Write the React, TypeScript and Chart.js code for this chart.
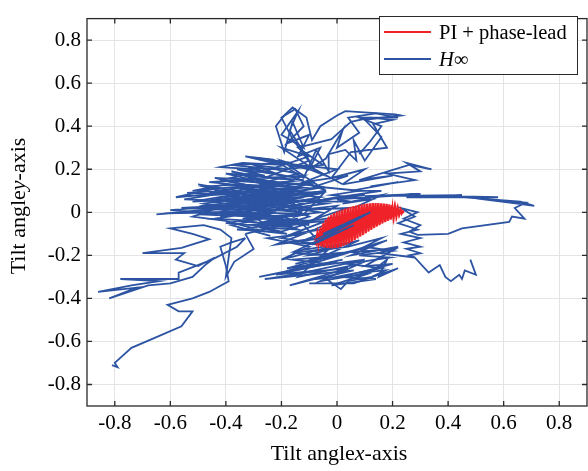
import { useEffect, useRef } from "react";
import { Chart, registerables } from "chart.js";

Chart.register(...registerables);

type P = [number, number];

const xTicks = [-0.8, -0.6, -0.4, -0.2, 0, 0.2, 0.4, 0.6, 0.8];
const yTicks = [-0.8, -0.6, -0.4, -0.2, 0, 0.2, 0.4, 0.6, 0.8];
const seriesNames = ["PI + phase-lead", "H∞"];

const hinfTail: P[] = [
  [-0.81, -0.71], [-0.79, -0.72], [-0.8, -0.7], [-0.74, -0.63], [-0.65, -0.58], [-0.56, -0.53],
  [-0.52, -0.46], [-0.57, -0.46], [-0.61, -0.43], [-0.52, -0.4], [-0.46, -0.37], [-0.39, -0.32],
  [-0.4, -0.25], [-0.42, -0.16], [-0.38, -0.14], [-0.33, -0.12],
];

const hinfFan: P[] = [
  [-0.33, -0.12], [-0.36, -0.16], [-0.45, -0.22], [-0.57, -0.28], [-0.57, -0.31], [-0.78, -0.31],
  [-0.64, -0.32], [-0.74, -0.34], [-0.86, -0.37], [-0.72, -0.35], [-0.82, -0.4], [-0.68, -0.34],
  [-0.6, -0.33], [-0.52, -0.3], [-0.47, -0.24], [-0.44, -0.21], [-0.5, -0.25], [-0.58, -0.22],
  [-0.55, -0.19], [-0.7, -0.19], [-0.56, -0.165], [-0.46, -0.125], [-0.52, -0.1], [-0.6, -0.075],
  [-0.48, -0.06], [-0.42, -0.08], [-0.38, -0.12], [-0.4, -0.3], [-0.37, -0.23], [-0.3, -0.17],
  [-0.33, -0.1],
];

const hinfMain: P[] = [
  [-0.33, -0.1], [-0.2, -0.06], [-0.35, -0.04], [-0.18, -0.02], [-0.4, 0.0], [-0.62, -0.005],
  [-0.45, 0.01], [-0.65, -0.01], [-0.4, 0.02], [-0.55, 0.0], [-0.3, 0.03], [-0.5, 0.02],
  [-0.25, 0.05], [-0.42, 0.04], [-0.2, 0.06], [-0.38, 0.07], [-0.15, 0.06], [-0.3, 0.09],
  [-0.1, 0.08], [-0.28, 0.1], [-0.45, 0.08], [-0.35, 0.12], [-0.52, 0.1], [-0.4, 0.13],
  [-0.25, 0.11], [-0.42, 0.15], [-0.3, 0.14], [-0.18, 0.12], [-0.35, 0.18], [-0.25, 0.16],
  [-0.12, 0.15], [-0.28, 0.13], [-0.08, 0.11], [-0.22, 0.08], [-0.05, 0.09], [-0.2, 0.05],
  [-0.02, 0.06], [-0.16, 0.03], [-0.3, 0.05], [-0.12, 0.02], [-0.28, 0.0], [-0.1, -0.01],
  [-0.26, -0.03], [-0.08, -0.04], [-0.24, -0.06], [-0.36, -0.08], [-0.22, -0.09], [-0.3, -0.02],
  [-0.48, 0.03], [-0.34, 0.05], [-0.55, 0.06], [-0.4, 0.09], [-0.58, 0.07], [-0.44, 0.11],
  [-0.5, 0.13], [-0.36, 0.1], [-0.22, 0.13], [-0.38, 0.16], [-0.28, 0.19], [-0.2, 0.17],
  [-0.32, 0.21], [-0.22, 0.2], [-0.14, 0.18], [-0.26, 0.14], [-0.1, 0.13], [-0.24, 0.1],
  [-0.06, 0.07], [-0.18, 0.04], [-0.32, 0.07], [-0.14, 0.05], [-0.36, 0.02], [-0.2, 0.01],
  [-0.42, -0.02], [-0.26, 0.02], [-0.46, 0.05], [-0.3, 0.08], [-0.16, 0.09], [-0.34, 0.11],
  [-0.2, 0.14], [-0.06, 0.12], [-0.24, 0.07], [-0.12, 0.04], [-0.32, -0.01], [-0.18, -0.05],
  [-0.34, -0.06], [-0.26, -0.09], [-0.4, -0.04], [-0.52, -0.02], [-0.38, 0.04], [-0.28, 0.06],
  [-0.44, 0.06], [-0.32, 0.1], [-0.18, 0.08], [-0.04, 0.1],
];

const hinfCore: P[] = [
  [-0.04, 0.1], [-0.2, 0.07], [-0.12, 0.09], [-0.3, 0.06], [-0.18, 0.08], [-0.36, 0.04],
  [-0.22, 0.06], [-0.4, 0.05], [-0.26, 0.03], [-0.44, 0.02], [-0.3, 0.01], [-0.38, -0.01],
  [-0.22, 0.0], [-0.34, -0.03], [-0.16, -0.01], [-0.28, -0.05], [-0.14, -0.03], [-0.24, -0.07],
  [-0.1, -0.05], [-0.2, -0.09], [-0.3, -0.06], [-0.18, -0.04], [-0.32, 0.02], [-0.2, 0.04],
  [-0.38, 0.08], [-0.26, 0.09], [-0.44, 0.1], [-0.3, 0.12], [-0.46, 0.14], [-0.34, 0.15],
  [-0.24, 0.13], [-0.38, 0.19], [-0.3, 0.17], [-0.16, 0.15], [-0.26, 0.11], [-0.12, 0.1],
  [-0.24, 0.04], [-0.1, 0.06], [-0.28, 0.02], [-0.14, 0.0], [-0.34, 0.06], [-0.22, 0.08],
  [-0.42, 0.07], [-0.28, 0.05], [-0.36, 0.09], [-0.16, 0.05], [-0.13, 0.0], [-0.15, -0.02],
  [-0.12, -0.01], [-0.04, 0.1],
];

const hinfCore2: P[] = [
  [-0.16, 0.05], [-0.34, 0.03], [-0.24, 0.01], [-0.46, 0.0], [-0.3, -0.02], [-0.5, -0.01],
  [-0.36, 0.01], [-0.56, 0.02], [-0.42, 0.03], [-0.6, 0.01], [-0.44, -0.005], [-0.32, 0.0],
  [-0.48, 0.04], [-0.36, 0.06], [-0.52, 0.05], [-0.38, 0.08], [-0.54, 0.09], [-0.42, 0.1],
  [-0.48, 0.12], [-0.34, 0.13], [-0.44, 0.16], [-0.3, 0.15], [-0.4, 0.18], [-0.26, 0.17],
  [-0.36, 0.2], [-0.22, 0.18], [-0.3, 0.22], [-0.18, 0.2], [-0.26, 0.16], [-0.12, 0.17],
  [-0.22, 0.12], [-0.08, 0.14], [-0.2, 0.1], [-0.06, 0.09], [-0.18, 0.06], [-0.04, 0.04],
  [-0.16, 0.02], [-0.06, 0.0], [-0.2, -0.02], [-0.1, -0.06], [-0.22, -0.04], [-0.14, -0.08],
  [-0.28, -0.07], [-0.18, -0.1], [-0.32, -0.08], [-0.24, -0.11], [-0.38, -0.06], [-0.3, -0.04],
  [-0.44, -0.03], [-0.34, -0.01], [-0.26, 0.04], [-0.4, 0.06], [-0.28, 0.08], [-0.46, 0.09],
  [-0.34, 0.09], [-0.24, 0.11], [-0.36, 0.13], [-0.2, 0.12], [-0.32, 0.16], [-0.16, 0.13],
  [-0.28, 0.11], [-0.14, 0.11], [-0.26, 0.07], [-0.12, 0.07], [-0.3, 0.04], [-0.18, 0.03],
  [-0.36, 0.0], [-0.24, -0.02], [-0.4, -0.05], [-0.26, -0.06], [-0.16, -0.07], [-0.2, -0.03],
  [-0.1, 0.02], [-0.24, 0.06],
];

const hinfUpper: P[] = [
  [-0.04, 0.1], [-0.2, 0.24], [-0.1, 0.2], [-0.28, 0.25], [-0.16, 0.23], [-0.38, 0.22],
  [-0.24, 0.2], [-0.1, 0.26], [-0.2, 0.3], [-0.06, 0.18], [-0.14, 0.22], [0.0, 0.2],
  [-0.12, 0.14], [0.04, 0.17], [-0.08, 0.12], [0.08, 0.1], [-0.02, 0.08], [0.12, 0.06],
  [0.02, 0.04], [0.16, 0.08], [0.06, 0.02],
];

const hinfMid: P[] = [
  [-0.24, 0.06], [-0.1, -0.02], [-0.2, -0.06], [-0.04, -0.04], [-0.16, -0.1], [0.0, -0.07],
  [-0.12, -0.13], [-0.02, -0.11], [-0.18, -0.14], [-0.06, -0.15], [-0.2, -0.12], [-0.08, -0.08],
  [0.02, -0.02], [-0.1, -0.04], [0.04, 0.02], [-0.14, 0.01], [0.0, 0.03], [-0.12, -0.06],
  [-0.04, -0.17], [-0.16, -0.19], [-0.02, -0.2], [-0.1, -0.22], [0.02, -0.19],
];

const hinfTower: P[] = [
  [-0.04, 0.1], [-0.15, 0.16], [-0.3, 0.2], [-0.42, 0.21], [-0.34, 0.23], [-0.2, 0.22],
  [-0.33, 0.26], [-0.23, 0.245], [-0.12, 0.16], [-0.075, 0.29], [-0.03, 0.19], [-0.03, 0.27],
  [0.03, 0.29], [0.07, 0.24], [0.06, 0.335], [0.1, 0.24], [0.16, 0.35], [0.1, 0.43],
  [0.23, 0.45], [0.21, 0.455], [0.03, 0.47], [0.0, 0.45], [-0.06, 0.4], [-0.09, 0.335],
  [-0.11, 0.44], [-0.16, 0.487], [-0.19, 0.45], [-0.22, 0.4], [-0.19, 0.28], [-0.16, 0.42],
  [-0.12, 0.3], [-0.2, 0.36], [-0.14, 0.47], [-0.17, 0.38], [-0.1, 0.24], [-0.18, 0.2],
  [-0.05, 0.22], [-0.14, 0.3], [-0.02, 0.34], [0.05, 0.42], [0.12, 0.44], [0.2, 0.43],
  [0.13, 0.41], [0.18, 0.3], [0.05, 0.28], [-0.02, 0.16], [0.1, 0.2], [0.02, 0.13],
];

const hinfTower2: P[] = [
  [0.02, 0.13], [-0.08, 0.2], [-0.16, 0.34], [-0.2, 0.44], [-0.15, 0.48], [-0.12, 0.4],
  [-0.18, 0.32], [-0.1, 0.36], [-0.14, 0.26], [-0.06, 0.3], [-0.1, 0.2], [-0.04, 0.25],
  [0.02, 0.38], [0.0, 0.3], [0.08, 0.37], [0.04, 0.44], [0.14, 0.46], [0.22, 0.44],
  [0.08, 0.44], [0.16, 0.4], [0.12, 0.33], [0.08, 0.27],
];

const hinfBand: P[] = [
  [0.02, 0.13], [0.2, 0.17], [0.08, 0.15], [0.26, 0.22], [0.34, 0.2], [0.25, 0.23],
  [0.3, 0.19], [0.18, 0.18], [0.28, 0.15], [0.12, 0.12], [0.22, 0.14], [0.05, 0.1],
  [0.16, 0.1], [-0.05, 0.06], [0.1, 0.08], [-0.1, 0.05], [0.05, 0.05], [0.0, 0.06],
];

const hinfLoop: P[] = [
  [0.0, 0.06], [0.3, 0.085], [0.1, 0.075], [0.45, 0.08], [0.25, 0.07], [0.58, 0.07],
  [0.4, 0.075], [0.66, 0.05], [0.71, 0.03], [0.65, 0.04], [0.5, 0.065], [0.68, 0.045],
  [0.64, 0.02], [0.675, -0.03], [0.63, -0.02], [0.62, -0.045], [0.45, -0.075], [0.4, -0.1],
  [0.29, -0.105], [0.26, -0.09], [0.3, -0.06], [0.24, -0.03], [0.29, 0.0], [0.23, 0.02],
  [0.28, -0.02], [0.22, -0.05], [0.29, -0.08], [0.23, -0.1], [0.3, -0.12], [0.24, -0.14],
  [0.3, -0.16], [0.25, -0.17], [0.3, -0.19], [0.26, -0.2], [0.28, -0.21], [0.33, -0.28],
  [0.37, -0.245], [0.39, -0.3], [0.41, -0.32], [0.44, -0.29], [0.45, -0.31], [0.46, -0.27],
  [0.5, -0.29], [0.48, -0.22],
];

const hinfLower: P[] = [
  [0.28, -0.21], [0.15, -0.19], [0.22, -0.16], [0.05, -0.2], [0.18, -0.13], [-0.05, -0.22],
  [0.12, -0.16], [-0.15, -0.24], [0.06, -0.18], [-0.2, -0.28], [0.02, -0.22], [-0.28, -0.3],
  [-0.08, -0.25], [0.1, -0.22], [-0.12, -0.28], [0.04, -0.26], [-0.17, -0.34], [-0.05, -0.3],
  [0.014, -0.357], [0.04, -0.32], [0.125, -0.3], [0.175, -0.27], [0.08, -0.28], [0.2, -0.24],
  [0.1, -0.25], [0.21, -0.17], [0.0, -0.19], [-0.1, -0.2], [0.05, -0.14], [-0.15, -0.18],
  [-0.05, -0.12], [-0.22, -0.15], [-0.12, -0.1], [-0.25, -0.12], [-0.1, -0.16], [-0.2, -0.22],
  [-0.02, -0.16], [-0.14, -0.3], [0.08, -0.24], [-0.06, -0.32], [0.12, -0.28], [0.18, -0.22],
  [0.15, -0.3], [0.22, -0.26], [0.06, -0.33], [-0.1, -0.33],
];

const hinfLower2: P[] = [
  [0.02, -0.19], [-0.18, -0.26], [0.0, -0.23], [-0.22, -0.29], [-0.06, -0.27], [-0.26, -0.31],
  [-0.1, -0.29], [0.06, -0.27], [-0.08, -0.31], [0.1, -0.29], [-0.02, -0.34], [0.14, -0.31],
  [0.0, -0.3], [0.16, -0.26], [0.04, -0.24], [0.19, -0.21], [0.08, -0.2], [0.2, -0.18],
  [0.1, -0.16], [0.16, -0.12], [0.04, -0.16], [-0.08, -0.18], [0.08, -0.13], [-0.06, -0.21],
  [-0.16, -0.22], [-0.04, -0.24],
];

const hinfOverRed: P[] = [
  [-0.08, -0.13], [0.1, -0.01], [-0.05, -0.1], [0.12, 0.0], [-0.09, -0.15], [0.06, -0.06],
  [-0.07, -0.14],
];

const piPhaseLead: P[] = [
  [-0.08, -0.12], [-0.075, -0.146], [-0.07, -0.095], [-0.065, -0.155], [-0.06, -0.07], [-0.055, -0.16],
  [-0.05, -0.05], [-0.045, -0.163], [-0.04, -0.032], [-0.035, -0.166], [-0.03, -0.02], [-0.025, -0.167],
  [-0.02, -0.01], [-0.015, -0.168], [-0.01, -0.003], [-0.005, -0.166], [0.0, 0.003], [0.005, -0.163],
  [0.01, 0.008], [0.015, -0.16], [0.02, 0.013], [0.025, -0.155], [0.03, 0.018], [0.035, -0.15],
  [0.04, 0.022], [0.045, -0.143], [0.05, 0.026], [0.055, -0.136], [0.06, 0.029], [0.065, -0.128],
  [0.07, 0.032], [0.075, -0.12], [0.08, 0.035], [0.085, -0.112], [0.09, 0.037], [0.095, -0.104],
  [0.1, 0.039], [0.105, -0.096], [0.11, 0.041], [0.115, -0.088], [0.12, 0.042], [0.125, -0.08],
  [0.13, 0.043], [0.135, -0.072], [0.14, 0.043], [0.145, -0.065], [0.15, 0.043], [0.155, -0.058],
  [0.16, 0.042], [0.165, -0.051], [0.17, 0.041], [0.175, -0.045], [0.18, 0.039], [0.185, -0.039],
  [0.19, 0.036], [0.195, -0.033], [0.2, 0.032], [0.205, -0.026], [0.21, 0.027], [0.215, -0.02],
  [0.22, 0.02], [0.225, -0.012], [0.23, 0.012], [0.235, -0.005], [0.24, 0.002],
  [0.2375, 0.007], [0.2325, -0.008], [0.2275, 0.016], [0.2225, -0.014], [0.2175, 0.023], [0.2125, -0.021],
  [0.2075, 0.029], [0.2025, -0.028], [0.1975, 0.034], [0.1925, -0.034], [0.1875, 0.037], [0.1825, -0.04],
  [0.1775, 0.04], [0.1725, -0.046], [0.1675, 0.041], [0.1625, -0.053], [0.1575, 0.042], [0.1525, -0.06],
  [0.1475, 0.043], [0.1425, -0.067], [0.1375, 0.043], [0.1325, -0.074], [0.1275, 0.043], [0.1225, -0.082],
  [0.1175, 0.042], [0.1125, -0.09], [0.1075, 0.04], [0.1025, -0.098], [0.0975, 0.038], [0.0925, -0.106],
  [0.0875, 0.036], [0.0825, -0.114], [0.0775, 0.034], [0.0725, -0.122], [0.0675, 0.031], [0.0625, -0.13],
  [0.0575, 0.028], [0.0525, -0.138], [0.0475, 0.024], [0.0425, -0.145], [0.0375, 0.02], [0.0325, -0.151],
  [0.0275, 0.016], [0.0225, -0.156], [0.0175, 0.011], [0.0125, -0.161], [0.0075, 0.006], [0.0025, -0.164],
  [-0.0025, 0.0], [-0.0075, -0.166], [-0.0125, -0.006], [-0.0175, -0.167], [-0.0225, -0.014], [-0.0275, -0.167],
  [-0.0325, -0.025], [-0.0375, -0.165], [-0.0425, -0.04], [-0.0475, -0.163], [-0.0525, -0.06], [-0.0575, -0.159],
  [-0.0625, -0.082], [-0.0675, -0.155], [-0.0725, -0.105], [-0.0775, -0.145],
  [0.05, -0.1], [0.2, 0.0], [-0.02, -0.13], [0.15, -0.02], [-0.05, -0.1], [0.12, 0.01],
  [-0.03, -0.06], [0.18, 0.02], [0.0, -0.08], [0.16, -0.04], [-0.04, -0.14], [0.1, -0.06],
  [-0.06, -0.12],
];

const BLUE = "#2c54a3";
const RED = "#ee2228";
const SERIF = '"Liberation Serif", "Times New Roman", serif';

const toPts = (a: P[]) => a.map(([x, y]) => ({ x, y }));
const fmt = (v: number) => String(Math.round(v * 10) / 10);

const framePlugin = {
  id: "frame",
  afterDatasetsDraw(chart: any) {
    const { ctx, chartArea } = chart;
    const { left, right, top, bottom } = chartArea;
    const xs = chart.scales.x;
    const ys = chart.scales.y;
    ctx.save();
    ctx.strokeStyle = "#2a2a2a";
    ctx.lineWidth = 1.3;
    ctx.strokeRect(left, top, right - left, bottom - top);
    ctx.beginPath();
    const tl = 5;
    for (const v of xTicks) {
      const px = xs.getPixelForValue(v);
      ctx.moveTo(px, bottom);
      ctx.lineTo(px, bottom - tl);
      ctx.moveTo(px, top);
      ctx.lineTo(px, top + tl);
    }
    for (const v of yTicks) {
      const py = ys.getPixelForValue(v);
      ctx.moveTo(left, py);
      ctx.lineTo(left + tl, py);
      ctx.moveTo(right, py);
      ctx.lineTo(right - tl, py);
    }
    ctx.stroke();

    // legend
    const lx = 379.5, ly = 16.5, lw = 198, lh = 58;
    ctx.fillStyle = "#ffffff";
    ctx.fillRect(lx, ly, lw, lh);
    ctx.strokeStyle = "#2a2a2a";
    ctx.lineWidth = 1;
    ctx.strokeRect(lx, ly, lw, lh);
    ctx.lineWidth = 2;
    ctx.strokeStyle = RED;
    ctx.beginPath();
    ctx.moveTo(384, 32);
    ctx.lineTo(431, 32);
    ctx.stroke();
    ctx.strokeStyle = BLUE;
    ctx.beginPath();
    ctx.moveTo(384, 59);
    ctx.lineTo(431, 59);
    ctx.stroke();
    ctx.fillStyle = "#000";
    ctx.textBaseline = "alphabetic";
    ctx.textAlign = "left";
    ctx.font = `20.5px ${SERIF}`;
    ctx.fillText(seriesNames[0], 439, 39);
    ctx.font = `italic 20.5px ${SERIF}`;
    ctx.fillText(seriesNames[1].slice(0, 1), 439, 66);
    const hw = ctx.measureText(seriesNames[1].slice(0, 1)).width;
    ctx.font = `20.5px ${SERIF}`;
    ctx.fillText(seriesNames[1].slice(1), 439 + hw, 66);

    // axis titles
    const drawTitle = (parts: [string, boolean][], cx: number, cy: number, rot: number) => {
      ctx.save();
      ctx.translate(cx, cy);
      ctx.rotate(rot);
      const widths = parts.map(([t, it]) => {
        ctx.font = `${it ? "italic " : ""}22px ${SERIF}`;
        return ctx.measureText(t).width;
      });
      const total = widths.reduce((a, b) => a + b, 0);
      let x = -total / 2;
      ctx.fillStyle = "#000";
      ctx.textBaseline = "alphabetic";
      ctx.textAlign = "left";
      parts.forEach(([t, it], i) => {
        ctx.font = `${it ? "italic " : ""}22px ${SERIF}`;
        ctx.fillText(t, x, 0);
        x += widths[i];
      });
      ctx.restore();
    };
    drawTitle([["Tilt angle", false], ["x", true], ["-axis", false]], 339, 460, 0);
    drawTitle([["Tilt angle", false], ["y", true], ["-axis", false]], 25, 206, -Math.PI / 2);
    ctx.restore();
  },
};

export default function App() {
  const ref = useRef<HTMLCanvasElement | null>(null);
  useEffect(() => {
    if (!ref.current) return;
    const blue = (d: P[]) => ({
      data: toPts(d),
      borderColor: BLUE,
      borderWidth: 1.8,
      pointRadius: 0,
      showLine: true,
      fill: false,
      tension: 0,
      order: 3,
    });
    const chart = new Chart(ref.current, {
      type: "scatter",
      data: {
        datasets: [
          { ...blue(hinfOverRed), order: 1, label: seriesNames[1] },
          {
            label: seriesNames[0],
            data: toPts(piPhaseLead),
            borderColor: RED,
            borderWidth: 1.6,
            pointRadius: 0,
            showLine: true,
            fill: false,
            tension: 0,
            order: 2,
          },
          blue(hinfTail),
          blue(hinfFan),
          blue(hinfMain),
          blue(hinfCore),
          blue(hinfCore2),
          blue(hinfUpper),
          blue(hinfMid),
          blue(hinfTower),
          blue(hinfTower2),
          blue(hinfBand),
          blue(hinfLoop),
          blue(hinfLower),
          blue(hinfLower2),
        ] as any,
      },
      options: {
        animation: false,
        responsive: false,
        events: [],
        layout: { padding: { top: 4, right: 1, left: 0, bottom: 0 } },
        plugins: { legend: { display: false }, tooltip: { enabled: false } },
        scales: {
          x: {
            type: "linear",
            min: -0.9,
            max: 0.9,
            afterBuildTicks: (s: any) => {
              s.ticks = xTicks.map((v) => ({ value: v }));
            },
            afterFit: (s: any) => {
              s.height = 65;
            },
            grid: { color: "#e4e4e4", lineWidth: 1, drawTicks: false },
            border: { display: false },
            ticks: {
              font: { family: SERIF, size: 21 },
              color: "#000",
              padding: 5,
              maxRotation: 0,
              callback: (v: any) => fmt(Number(v)),
            },
          },
          y: {
            type: "linear",
            min: -0.9,
            max: 0.9,
            afterBuildTicks: (s: any) => {
              s.ticks = yTicks.map((v) => ({ value: v }));
            },
            afterFit: (s: any) => {
              s.width = 87;
            },
            grid: { color: "#e4e4e4", lineWidth: 1, drawTicks: false },
            border: { display: false },
            ticks: {
              font: { family: SERIF, size: 21 },
              color: "#000",
              padding: 6,
              callback: (v: any) => fmt(Number(v)),
            },
          },
        },
      },
      plugins: [framePlugin],
    } as any);
    return () => chart.destroy();
  }, []);
  return (
    <div style={{ position: "fixed", left: 0, top: 0, width: 588, height: 471, background: "#fff" }}>
      <canvas ref={ref} width={588} height={471} style={{ display: "block", width: 588, height: 471 }} />
    </div>
  );
}
